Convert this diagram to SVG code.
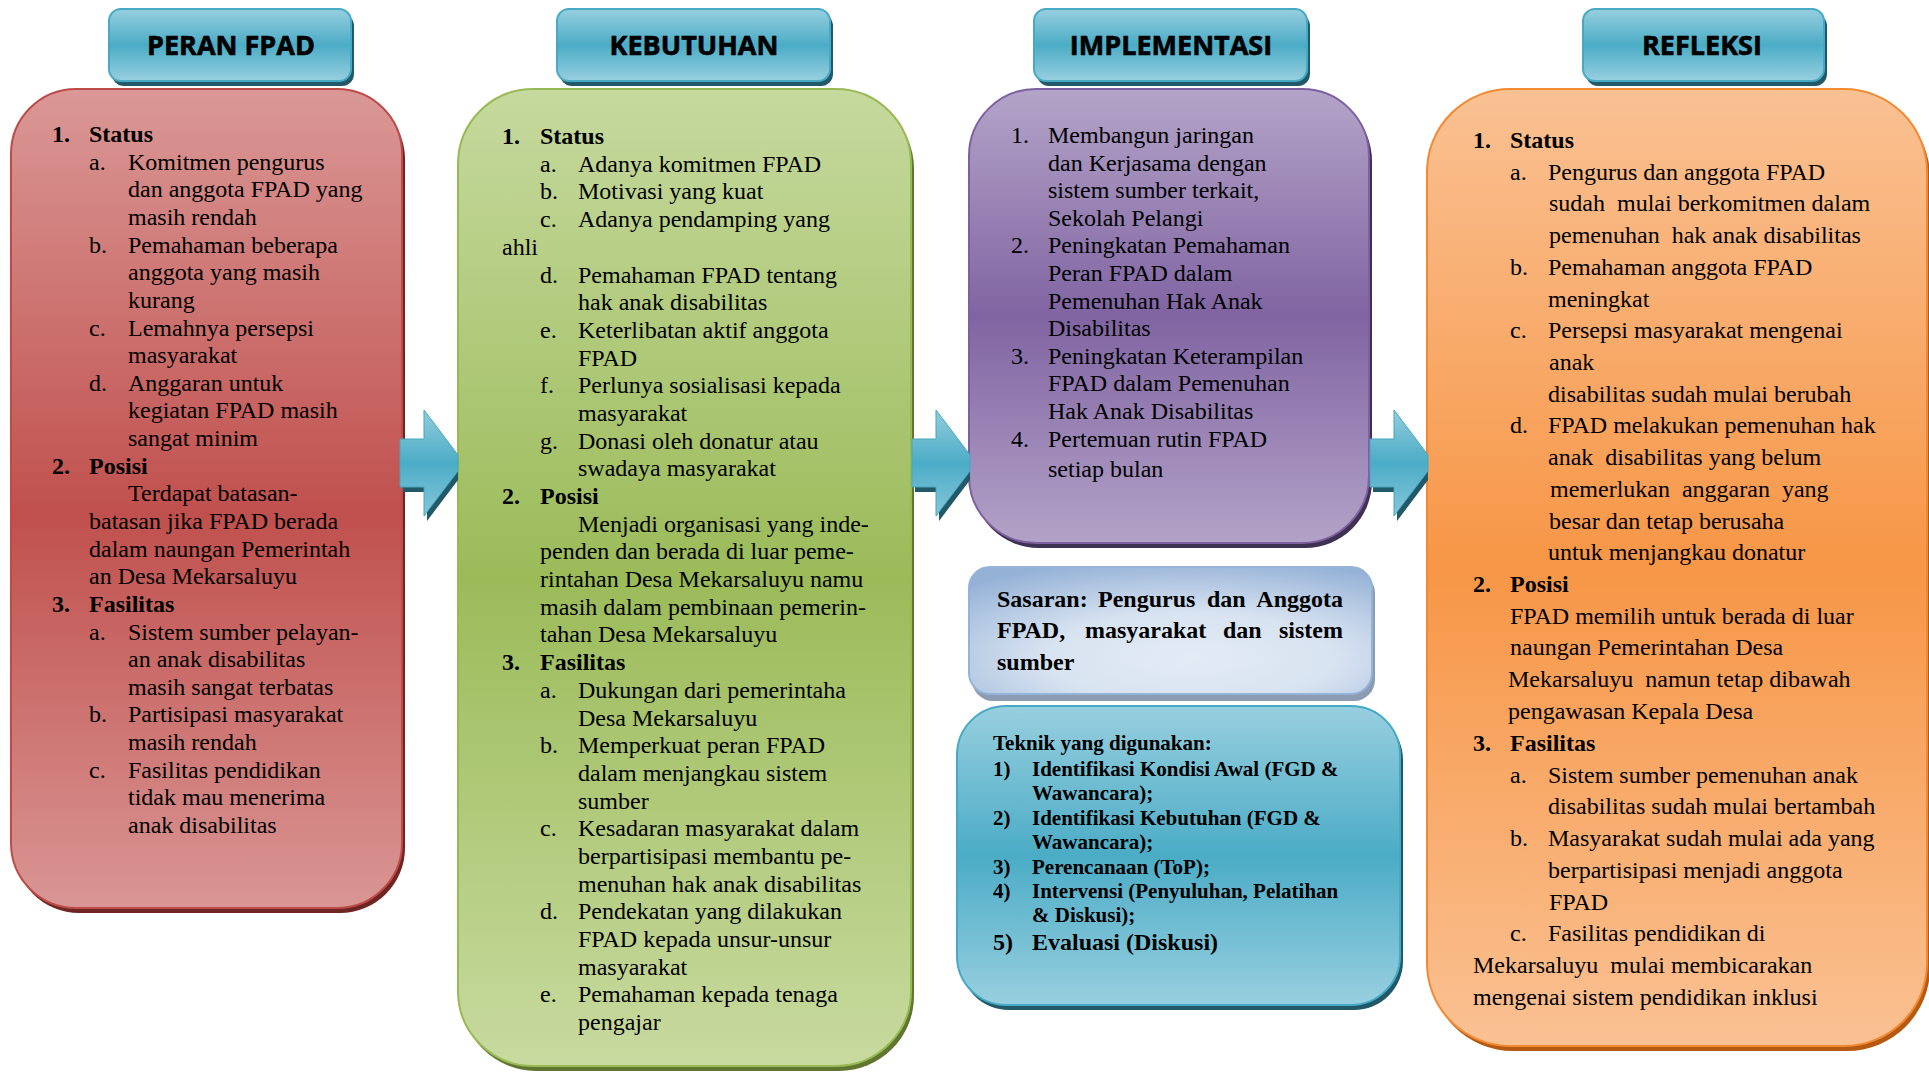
<svg xmlns="http://www.w3.org/2000/svg" width="1929" height="1072" viewBox="0 0 1929 1072">
<style>
.t{font-family:"Liberation Serif","Times New Roman",serif;font-size:24px;fill:#000}
.b{font-weight:bold}
.k{font-family:"Liberation Serif","Times New Roman",serif;font-size:21px;font-weight:bold;fill:#000}
.h{font-family:"Open Sans","Liberation Sans",sans-serif;font-size:27px;font-weight:700;fill:#000;stroke:#000;stroke-width:0.6;text-anchor:middle}
</style>
<defs>
<linearGradient id="gRed" x1="0" y1="0" x2="0" y2="1"><stop offset="0" stop-color="#DA9896"/><stop offset="0.52" stop-color="#C0504D"/><stop offset="1" stop-color="#D99694"/></linearGradient>
<linearGradient id="gGreen" x1="0" y1="0" x2="0" y2="1"><stop offset="0" stop-color="#C6D99E"/><stop offset="0.5" stop-color="#9BBB59"/><stop offset="1" stop-color="#C8DA9F"/></linearGradient>
<linearGradient id="gPurple" x1="0" y1="0" x2="0" y2="1"><stop offset="0" stop-color="#B4A4C8"/><stop offset="0.5" stop-color="#8064A2"/><stop offset="1" stop-color="#B3A2C7"/></linearGradient>
<linearGradient id="gOrange" x1="0" y1="0" x2="0" y2="1"><stop offset="0" stop-color="#FAC193"/><stop offset="0.5" stop-color="#F79646"/><stop offset="1" stop-color="#FAC193"/></linearGradient>
<linearGradient id="gBlue" x1="0" y1="0" x2="0" y2="1"><stop offset="0" stop-color="#98CFDF"/><stop offset="0.5" stop-color="#4BACC6"/><stop offset="1" stop-color="#98CFDF"/></linearGradient>
<linearGradient id="gArrow" x1="0" y1="0" x2="0" y2="1"><stop offset="0" stop-color="#93CDDD"/><stop offset="0.5" stop-color="#4BACC6"/><stop offset="1" stop-color="#86C7DA"/></linearGradient>
<radialGradient id="gSas" cx="0.55" cy="0.72" r="0.8"><stop offset="0" stop-color="#E3EBF5"/><stop offset="0.45" stop-color="#D8E3F1"/><stop offset="1" stop-color="#94B1D6"/></radialGradient>
<g id="blockArrow">
<polygon points="403,444 427,444 427,415 458,456 458,480 427,521 427,492 403,492" fill="#215968"/>
<polygon points="400,439 424,439 424,410 458,455 458,471 424,516 424,487 400,487" fill="url(#gArrow)" stroke="#46A5BE" stroke-width="1"/>
</g>
</defs>
<rect width="1929" height="1072" fill="#fff"/>

<g id="header-peran">
<rect x="112" y="14" width="242" height="72" rx="12" fill="#215968"/>
<rect x="109" y="9" width="242" height="72" rx="12" fill="url(#gBlue)" stroke="#46AAC5" stroke-width="2"/>
<text class="h" x="231" y="55">PERAN FPAD</text>
</g>
<g id="header-kebutuhan">
<rect x="560" y="14" width="273" height="72" rx="12" fill="#215968"/>
<rect x="557" y="9" width="273" height="72" rx="12" fill="url(#gBlue)" stroke="#46AAC5" stroke-width="2"/>
<text class="h" x="694" y="55">KEBUTUHAN</text>
</g>
<g id="header-implementasi">
<rect x="1037" y="14" width="273" height="72" rx="12" fill="#215968"/>
<rect x="1034" y="9" width="273" height="72" rx="12" fill="url(#gBlue)" stroke="#46AAC5" stroke-width="2"/>
<text class="h" x="1171" y="55">IMPLEMENTASI</text>
</g>
<g id="header-refleksi">
<rect x="1586" y="14" width="241" height="72" rx="12" fill="#215968"/>
<rect x="1583" y="9" width="241" height="72" rx="12" fill="url(#gBlue)" stroke="#46AAC5" stroke-width="2"/>
<text class="h" x="1702" y="55">REFLEKSI</text>
</g>

<g id="peran-box">
<rect x="14" y="94" width="391" height="819" rx="65" fill="#6E2524"/>
<rect x="11" y="89" width="391" height="819" rx="65" fill="url(#gRed)" stroke="#BE4B48" stroke-width="2"/>
<g transform="translate(0,1)">
<text class="t b" y="141"><tspan x="52">1.</tspan><tspan x="89">Status</tspan></text>
<text class="t" y="168.6"><tspan x="89">a.</tspan><tspan x="128">Komitmen pengurus</tspan></text>
<text class="t" x="128" y="196.3">dan anggota FPAD yang</text>
<text class="t" x="128" y="223.9">masih rendah</text>
<text class="t" y="251.6"><tspan x="89">b.</tspan><tspan x="128">Pemahaman beberapa</tspan></text>
<text class="t" x="128" y="279.2">anggota yang masih</text>
<text class="t" x="128" y="306.8">kurang</text>
<text class="t" y="334.5"><tspan x="89">c.</tspan><tspan x="128">Lemahnya persepsi</tspan></text>
<text class="t" x="128" y="362.1">masyarakat</text>
<text class="t" y="389.8"><tspan x="89">d.</tspan><tspan x="128">Anggaran untuk</tspan></text>
<text class="t" x="128" y="417.4">kegiatan FPAD masih</text>
<text class="t" x="128" y="445">sangat minim</text>
<text class="t b" y="472.7"><tspan x="52">2.</tspan><tspan x="89">Posisi</tspan></text>
<text class="t" x="128" y="500.3">Terdapat batasan-</text>
<text class="t" x="89" y="528">batasan jika FPAD berada</text>
<text class="t" x="89" y="555.6">dalam naungan Pemerintah</text>
<text class="t" x="89" y="583.2">an Desa Mekarsaluyu</text>
<text class="t b" y="610.9"><tspan x="52">3.</tspan><tspan x="89">Fasilitas</tspan></text>
<text class="t" y="638.5"><tspan x="89">a.</tspan><tspan x="128">Sistem sumber pelayan-</tspan></text>
<text class="t" x="128" y="666.2">an anak disabilitas</text>
<text class="t" x="128" y="693.8">masih sangat terbatas</text>
<text class="t" y="721.4"><tspan x="89">b.</tspan><tspan x="128">Partisipasi masyarakat</tspan></text>
<text class="t" x="128" y="749.1">masih rendah</text>
<text class="t" y="776.7"><tspan x="89">c.</tspan><tspan x="128">Fasilitas pendidikan</tspan></text>
<text class="t" x="128" y="804.4">tidak mau menerima</text>
<text class="t" x="128" y="832">anak disabilitas</text>
</g>
</g>

<g id="kebutuhan-box">
<rect x="461" y="94" width="453" height="977" rx="75" fill="#5F7530"/>
<rect x="458" y="89" width="453" height="977" rx="75" fill="url(#gGreen)" stroke="#98B954" stroke-width="2"/>
<g transform="translate(0,3)">
<text class="t b" y="141"><tspan x="502">1.</tspan><tspan x="540">Status</tspan></text>
<text class="t" y="168.7"><tspan x="540">a.</tspan><tspan x="578">Adanya komitmen FPAD</tspan></text>
<text class="t" y="196.4"><tspan x="540">b.</tspan><tspan x="578">Motivasi yang kuat</tspan></text>
<text class="t" y="224.1"><tspan x="540">c.</tspan><tspan x="578">Adanya pendamping yang</tspan></text>
<text class="t" x="502" y="251.8">ahli</text>
<text class="t" y="279.5"><tspan x="540">d.</tspan><tspan x="578">Pemahaman FPAD tentang</tspan></text>
<text class="t" x="578" y="307.1">hak anak disabilitas</text>
<text class="t" y="334.8"><tspan x="540">e.</tspan><tspan x="578">Keterlibatan aktif anggota</tspan></text>
<text class="t" x="578" y="362.5">FPAD</text>
<text class="t" y="390.2"><tspan x="540">f.</tspan><tspan x="578">Perlunya sosialisasi kepada</tspan></text>
<text class="t" x="578" y="417.9">masyarakat</text>
<text class="t" y="445.6"><tspan x="540">g.</tspan><tspan x="578">Donasi oleh donatur atau</tspan></text>
<text class="t" x="578" y="473.3">swadaya masyarakat</text>
<text class="t b" y="501"><tspan x="502">2.</tspan><tspan x="540">Posisi</tspan></text>
<text class="t" x="578" y="528.7">Menjadi organisasi yang inde-</text>
<text class="t" x="540" y="556.4">penden dan berada di luar peme-</text>
<text class="t" x="540" y="584">rintahan Desa Mekarsaluyu namu</text>
<text class="t" x="540" y="611.7">masih dalam pembinaan pemerin-</text>
<text class="t" x="540" y="639.4">tahan Desa Mekarsaluyu</text>
<text class="t b" y="667.1"><tspan x="502">3.</tspan><tspan x="540">Fasilitas</tspan></text>
<text class="t" y="694.8"><tspan x="540">a.</tspan><tspan x="578">Dukungan dari pemerintaha</tspan></text>
<text class="t" x="578" y="722.5">Desa Mekarsaluyu</text>
<text class="t" y="750.2"><tspan x="540">b.</tspan><tspan x="578">Memperkuat peran FPAD</tspan></text>
<text class="t" x="578" y="777.9">dalam menjangkau sistem</text>
<text class="t" x="578" y="805.6">sumber</text>
<text class="t" y="833.3"><tspan x="540">c.</tspan><tspan x="578">Kesadaran masyarakat dalam</tspan></text>
<text class="t" x="578" y="860.9">berpartisipasi membantu pe-</text>
<text class="t" x="578" y="888.6">menuhan hak anak disabilitas</text>
<text class="t" y="916.3"><tspan x="540">d.</tspan><tspan x="578">Pendekatan yang dilakukan</tspan></text>
<text class="t" x="578" y="944">FPAD kepada unsur-unsur</text>
<text class="t" x="578" y="971.7">masyarakat</text>
<text class="t" y="999.4"><tspan x="540">e.</tspan><tspan x="578">Pemahaman kepada tenaga</tspan></text>
<text class="t" x="578" y="1027">pengajar</text>
</g>
</g>

<g id="implementasi-box">
<rect x="972" y="94" width="400" height="454" rx="67" fill="#3F3151"/>
<rect x="969" y="89" width="400" height="454" rx="67" fill="url(#gPurple)" stroke="#7D60A0" stroke-width="2"/>
<text class="t" y="143"><tspan x="1011">1.</tspan><tspan x="1048">Membangun jaringan</tspan></text>
<text class="t" x="1048" y="170.6">dan Kerjasama dengan</text>
<text class="t" x="1048" y="198.2">sistem sumber terkait,</text>
<text class="t" x="1048" y="225.8">Sekolah Pelangi</text>
<text class="t" y="253.4"><tspan x="1011">2.</tspan><tspan x="1048">Peningkatan Pemahaman</tspan></text>
<text class="t" x="1048" y="281">Peran FPAD dalam</text>
<text class="t" x="1048" y="308.6">Pemenuhan Hak Anak</text>
<text class="t" x="1048" y="336.2">Disabilitas</text>
<text class="t" y="363.8"><tspan x="1011">3.</tspan><tspan x="1048">Peningkatan Keterampilan</tspan></text>
<text class="t" x="1048" y="391.4">FPAD dalam Pemenuhan</text>
<text class="t" x="1048" y="419">Hak Anak Disabilitas</text>
<text class="t" y="447"><tspan x="1011">4.</tspan><tspan x="1048">Pertemuan rutin FPAD</tspan></text>
<text class="t" x="1048" y="477">setiap bulan</text>
</g>

<g id="sasaran-box">
<rect x="972" y="572" width="403" height="129" rx="21" fill="#8C9DB3"/>
<rect x="969" y="567" width="403" height="127" rx="21" fill="url(#gSas)" stroke="#95B3D7" stroke-width="2"/>
<text class="t b" y="607"><tspan x="997">Sasaran:</tspan><tspan x="1098">Pengurus</tspan><tspan x="1207">dan</tspan><tspan x="1343" text-anchor="end">Anggota</tspan></text>
<text class="t b" y="638"><tspan x="997">FPAD,</tspan><tspan x="1085">masyarakat</tspan><tspan x="1223">dan</tspan><tspan x="1343" text-anchor="end">sistem</tspan></text>
<text class="t b" x="997" y="670">sumber</text>
</g>

<g id="teknik-box">
<rect x="960" y="711" width="443" height="299" rx="49" fill="#215968"/>
<rect x="957" y="706" width="443" height="299" rx="49" fill="url(#gBlue)" stroke="#46AAC5" stroke-width="2"/>
<text class="k" x="993" y="750">Teknik yang digunakan:</text>
<text class="k" y="776"><tspan x="993">1)</tspan><tspan x="1032">Identifikasi Kondisi Awal (FGD &amp;</tspan></text>
<text class="k" x="1032" y="800">Wawancara);</text>
<text class="k" y="825"><tspan x="993">2)</tspan><tspan x="1032">Identifikasi Kebutuhan (FGD &amp;</tspan></text>
<text class="k" x="1032" y="849">Wawancara);</text>
<text class="k" y="874"><tspan x="993">3)</tspan><tspan x="1032">Perencanaan (ToP);</tspan></text>
<text class="k" y="898"><tspan x="993">4)</tspan><tspan x="1032">Intervensi (Penyuluhan, Pelatihan</tspan></text>
<text class="k" x="1032" y="922">&amp; Diskusi);</text>
<text class="t b" y="950"><tspan x="993">5)</tspan><tspan x="1032">Evaluasi (Diskusi)</tspan></text>
</g>

<g id="refleksi-box">
<rect x="1430" y="94" width="500" height="957" rx="83" fill="#B65A12"/>
<rect x="1427" y="89" width="500" height="957" rx="83" fill="url(#gOrange)" stroke="#F28A34" stroke-width="2"/>
<text class="t b" y="148"><tspan x="1473">1.</tspan><tspan x="1510">Status</tspan></text>
<text class="t" y="179.7"><tspan x="1510">a.</tspan><tspan x="1548">Pengurus dan anggota FPAD</tspan></text>
<text class="t" x="1549" y="211.4" xml:space="preserve">sudah  mulai berkomitmen dalam</text>
<text class="t" x="1549" y="243.1" xml:space="preserve">pemenuhan  hak anak disabilitas</text>
<text class="t" y="274.8"><tspan x="1510">b.</tspan><tspan x="1548">Pemahaman anggota FPAD</tspan></text>
<text class="t" x="1548" y="306.5">meningkat</text>
<text class="t" y="338.2"><tspan x="1510">c.</tspan><tspan x="1548">Persepsi masyarakat mengenai</tspan></text>
<text class="t" x="1549" y="369.9">anak</text>
<text class="t" x="1548" y="401.6">disabilitas sudah mulai berubah</text>
<text class="t" y="433.3"><tspan x="1510">d.</tspan><tspan x="1548">FPAD melakukan pemenuhan hak</tspan></text>
<text class="t" x="1548" y="465" xml:space="preserve">anak  disabilitas yang belum</text>
<text class="t" x="1550" y="496.8" xml:space="preserve">memerlukan  anggaran  yang</text>
<text class="t" x="1549" y="528.5">besar dan tetap berusaha</text>
<text class="t" x="1548" y="560.2">untuk menjangkau donatur</text>
<text class="t b" y="592"><tspan x="1473">2.</tspan><tspan x="1510">Posisi</tspan></text>
<text class="t" x="1510" y="623.7">FPAD memilih untuk berada di luar</text>
<text class="t" x="1510" y="655.4">naungan Pemerintahan Desa</text>
<text class="t" x="1508" y="687.2" xml:space="preserve">Mekarsaluyu  namun tetap dibawah</text>
<text class="t" x="1508" y="718.9">pengawasan Kepala Desa</text>
<text class="t b" y="750.7"><tspan x="1473">3.</tspan><tspan x="1510">Fasilitas</tspan></text>
<text class="t" y="782.5"><tspan x="1510">a.</tspan><tspan x="1548">Sistem sumber pemenuhan anak</tspan></text>
<text class="t" x="1548" y="814.2">disabilitas sudah mulai bertambah</text>
<text class="t" y="846"><tspan x="1510">b.</tspan><tspan x="1548">Masyarakat sudah mulai ada yang</tspan></text>
<text class="t" x="1548" y="877.7">berpartisipasi menjadi anggota</text>
<text class="t" x="1549" y="909.5">FPAD</text>
<text class="t" y="941.2"><tspan x="1510">c.</tspan><tspan x="1548">Fasilitas pendidikan di</tspan></text>
<text class="t" x="1473" y="973" xml:space="preserve">Mekarsaluyu  mulai membicarakan</text>
<text class="t" x="1473" y="1004.8">mengenai sistem pendidikan inklusi</text>
</g>

<g id="connectors">
<use href="#blockArrow" x="0" y="0"/>
<use href="#blockArrow" x="512" y="0"/>
<use href="#blockArrow" x="970" y="0"/>
</g>
</svg>
